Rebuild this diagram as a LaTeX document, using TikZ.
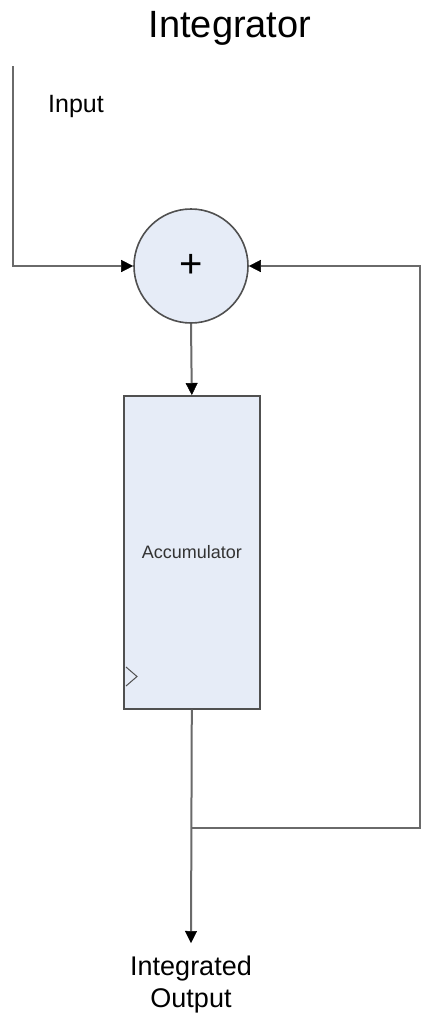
\documentclass[tikz,border=0pt]{standalone}
\usepackage{fontspec}
\setmainfont{Liberation Sans}
\usetikzlibrary{arrows.meta}
\definecolor{wire}{HTML}{6A6A6A}
\definecolor{boxfill}{HTML}{E6ECF7}
\definecolor{boxline}{HTML}{505050}
\begin{document}
\begin{tikzpicture}[x=1pt,y=-1pt,
  wirestyle/.style={draw=wire,line width=2pt},
  thinwire/.style={draw=wire,line width=1.5pt},
  tip/.style={-{Triangle[length=12pt,width=12pt,fill=black,color=black,line width=0.5pt]}},
  blockstyle/.style={draw=boxline,line width=1.6pt,fill=boxfill},
  lbl/.style={inner sep=0pt,text=black}]
\useasboundingbox (0,0) rectangle (423,1018);
\node[lbl,font=\fontsize{38}{44}\selectfont] (title) at (230,28) {Integrator};
\node[lbl,font=\fontsize{25}{30}\selectfont,anchor=base west] (inlbl) at (48,112) {Input};
\node[blockstyle,circle,minimum size=114pt,inner sep=0pt,font=\fontsize{40}{44}\selectfont] (sum) at (191,266) {+};
\node[blockstyle,rectangle,minimum width=136pt,minimum height=313pt,inner sep=0pt,anchor=north west,
      font=\fontsize{18}{22}\selectfont,text=black!80] (acc) at (123,395) {Accumulator};
\draw[draw=boxline,line width=1pt] (126,667) -- (137,676.5) -- (126,686);
\coordinate (inTop) at (13,66);
\coordinate (junc) at (191,828);
\coordinate (fbr) at (420,828);
\coordinate (outEnd) at (191,943);
\node[lbl,font=\fontsize{27}{32}\selectfont,align=center,anchor=north] (outlbl) at (191,956) {Integrated\\Output};
\draw[wirestyle,tip] (inTop) |- (sum.west);
\draw[thinwire,tip] (junc) -- (fbr) |- (sum.east);
\draw[wirestyle,tip] (sum.south) -- (acc.north);
\draw[wirestyle,tip] (acc.south) -- (outEnd);
\end{tikzpicture}
\end{document}
